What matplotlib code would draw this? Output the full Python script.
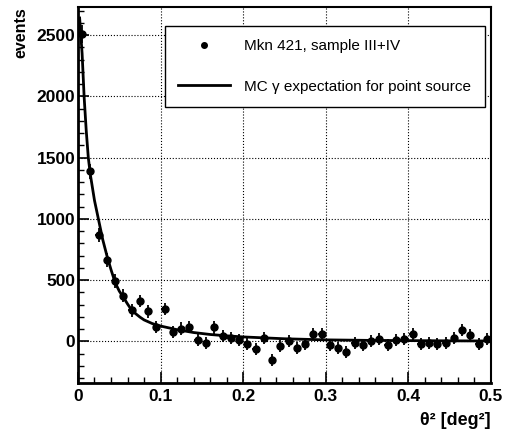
import numpy as np
import matplotlib
matplotlib.use('Agg')
import matplotlib.pyplot as plt
from matplotlib.ticker import MultipleLocator
from matplotlib.lines import Line2D

plt.rcParams['font.family'] = ['Liberation Sans', 'DejaVu Sans']

# theta^2 bin centres (bin width 0.01 deg^2)
theta2 = [0.005, 0.015, 0.025, 0.035, 0.045, 0.055, 0.065, 0.075, 0.085, 0.095,
          0.105, 0.115, 0.125, 0.135, 0.145, 0.155, 0.165, 0.175, 0.185, 0.195,
          0.205, 0.215, 0.225, 0.235, 0.245, 0.255, 0.265, 0.275, 0.285, 0.295,
          0.305, 0.315, 0.325, 0.335, 0.345, 0.355, 0.365, 0.375, 0.385, 0.395,
          0.405, 0.415, 0.425, 0.435, 0.445, 0.455, 0.465, 0.475, 0.485, 0.495]
events = [2510, 1389, 866, 667, 493, 373, 253, 329, 245, 117,
          264, 74, 104, 120, 14, -14, 114, 43, 30, 14,
          -24, -65, 30, -155, -34, 2, -54, -22, 57, 60,
          -27, -52, -90, -16, -30, 0, 22, -30, 14, 16,
          63, -24, -11, -22, -14, 27, 92, 51, -22, 16]
errors = [75, 62, 58, 56, 54, 53, 52, 52, 51, 51,
          50, 50, 50, 50, 50, 49, 50, 49, 49, 49,
          49, 49, 49, 49, 49, 49, 49, 49, 49, 49,
          49, 49, 49, 49, 49, 49, 49, 49, 49, 49,
          49, 49, 49, 49, 49, 49, 49, 49, 49, 49]

# MC gamma expectation
mc_theta2 = [0.002, 0.005, 0.0075, 0.010, 0.0125, 0.015, 0.020, 0.025, 0.030, 0.035,
             0.040, 0.045, 0.050, 0.055, 0.060, 0.065, 0.070, 0.075, 0.080, 0.090,
             0.100, 0.120, 0.140, 0.160, 0.180, 0.200, 0.250, 0.300, 0.350, 0.400,
             0.450, 0.500]
mc_events = [2640, 2350, 1990, 1720, 1500, 1360, 1150, 990, 830, 700,
             585, 480, 410, 360, 305, 255, 225, 198, 175, 145,
             125, 95, 72, 56, 45, 36, 21, 12, 8, 6,
             4, 3]

fig = plt.figure(figsize=(5.07, 4.36), dpi=100)
ax = fig.add_axes([0.1538, 0.1216, 0.8146, 0.8624])

ax.grid(True, color='black', linestyle=':', linewidth=0.8)
ax.set_axisbelow(True)

ax.errorbar(theta2, events, yerr=errors, xerr=0.004, fmt='o', color='black',
            ms=5, elinewidth=1.3, capsize=0, zorder=3)
ax.plot(mc_theta2, mc_events, color='black', lw=2, zorder=4)

ax.set_xlim(0, 0.5)
ax.set_ylim(-340, 2730)
ax.xaxis.set_minor_locator(MultipleLocator(0.02))
ax.yaxis.set_major_locator(MultipleLocator(500))
ax.yaxis.set_minor_locator(MultipleLocator(100))
ax.set_xticks([0, 0.1, 0.2, 0.3, 0.4, 0.5])
ax.set_xticklabels(['0', '0.1', '0.2', '0.3', '0.4', '0.5'])

ax.tick_params(which='major', direction='in', length=8, width=1.2, top=False, right=False)
ax.tick_params(which='minor', direction='in', length=4, width=1.0, top=False, right=False)
for lab in ax.get_xticklabels() + ax.get_yticklabels():
    lab.set_fontweight('bold')
    lab.set_fontsize(12.5)
ax.tick_params(axis='x', pad=4)
ax.tick_params(axis='y', pad=2)

for side in ['left', 'bottom']:
    ax.spines[side].set_linewidth(2)
for side in ['top', 'right']:
    ax.spines[side].set_linewidth(1.5)

ax.set_ylabel('events', fontsize=11.5, fontweight='bold', loc='top', labelpad=6)
ax.set_xlabel('θ² [deg²]', fontsize=13, fontweight='bold', loc='right', labelpad=6)

handles = [Line2D([], [], color='black', marker='o', ms=4, linestyle='none'),
           Line2D([], [], color='black', lw=2)]
labels = ['Mkn 421, sample III+IV', 'MC γ expectation for point source']
leg = ax.legend(handles, labels, loc='upper left',
                bbox_to_anchor=(165 / 507, 1 - 103 / 436, 320 / 507, 77 / 436),
                bbox_transform=fig.transFigure, mode='expand', fontsize=11, frameon=True,
                fancybox=False, edgecolor='black', framealpha=1, handlelength=3.4,
                labelspacing=1.75, borderpad=0.85, handletextpad=0.9, borderaxespad=0)
leg.get_frame().set_linewidth(1.0)

fig.savefig('out.png', dpi=100)
